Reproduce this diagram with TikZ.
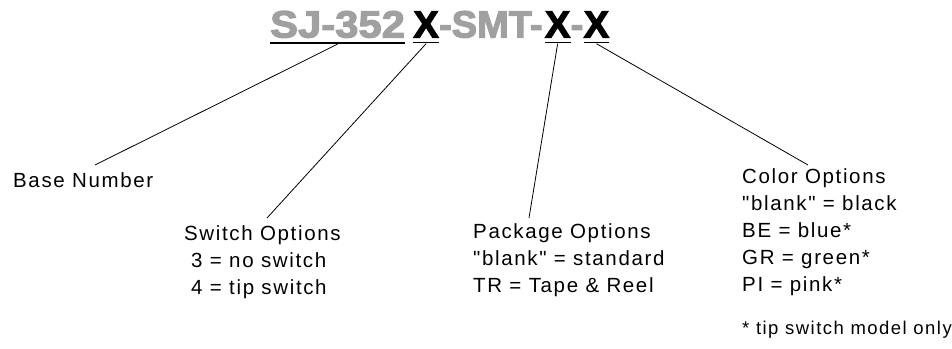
\documentclass[tikz,border=0pt]{standalone}
\usepackage{fontspec}
\setmainfont{Liberation Sans}[LetterSpace=8, Ligatures=TeXOff]
\newfontfamily\ttlwide{Liberation Sans}[FakeStretch=1.1, FakeBold=3]
\newfontfamily\ttlfont{Liberation Sans}[FakeBold=3]
\usetikzlibrary{calc}
\definecolor{tgray}{RGB}{160,160,160}
\begin{document}
\begin{tikzpicture}[x=1pt,y=-1pt,
  ttl/.style={font=\ttlfont\bfseries\fontsize{38}{38}\selectfont, inner sep=0pt, anchor=base west},
  ttlw/.style={ttl, font=\ttlwide\bfseries\fontsize{38}{38}\selectfont},
  lbl/.style={font=\fontsize{20.5}{27}\selectfont, align=left, anchor=base west, inner sep=0pt},
  foot/.style={font=\fontsize{18.5}{22}\selectfont, anchor=base west, inner sep=0pt},
  leader/.style={line width=0.8pt},
  uline/.style={line width=1.3pt}]
\useasboundingbox (0,0) rectangle (952,348);
% title pieces
\node[ttlw, text=tgray] (base) at (270,37.5) {SJ-352};
\node[ttl] (sw) at ([xshift=8pt]base.base east) {X};
\node[ttl, text=tgray] (smt) at (sw.base east) {-SMT-};
\node[ttl] (pkg) at ([xshift=2pt]smt.base east) {X};
\node[ttl, text=tgray] (dsh) at (pkg.base east) {-};
\node[ttl] (col) at (dsh.base east) {X};
% underlines
\foreach \n in {base,sw,pkg,col}
  \draw[uline] ([yshift=-5pt]\n.south west) -- ([yshift=-5pt]\n.south east);
% labels (anchored at the baseline of their last line)
\node[lbl] (bn) at (13,187) {Base Number};
\node[lbl] (so) at (184,294) {Switch Options\\\hspace{7pt}3 = no switch\\\hspace{7pt}4 = tip switch};
\node[lbl] (po) at (473,292) {Package Options\\"blank" = standard\\TR = Tape \& Reel};
\node[lbl] (co) at (742,291) {Color Options\\"blank" = black\\BE = blue*\\GR = green*\\PI = pink*};
\node[foot] (ft) at (742,334) {* tip switch model only};
% leaders
\draw[leader] ([yshift=-6pt]base.south) -- ([shift={(82,-22)}]bn.base west);
\draw[leader] ([yshift=-6pt]sw.south) -- ([shift={(83,-76)}]so.base west);
\draw[leader] ([yshift=-6pt]pkg.south) -- ([shift={(56,-74)}]po.base west);
\draw[leader] ([yshift=-6pt]col.south) -- ([shift={(66,-126)}]co.base west);
\end{tikzpicture}
\end{document}
